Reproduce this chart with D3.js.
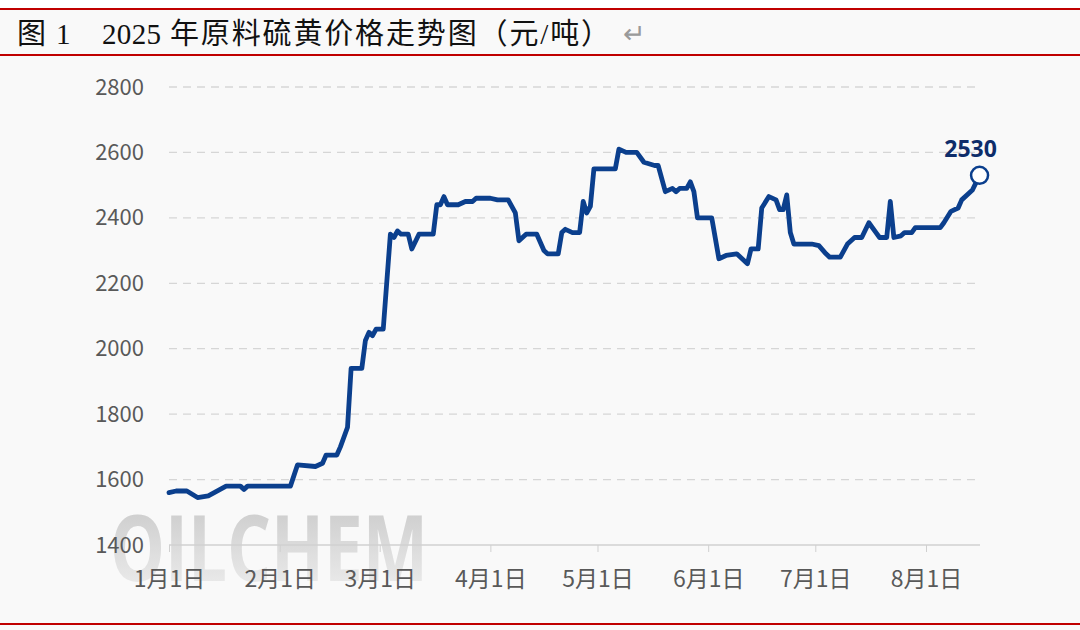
<!DOCTYPE html>
<html>
<head>
<meta charset="utf-8">
<script src="https://cdn.jsdelivr.net/npm/d3@7"></script>
<style>
  body { margin: 0; background: #f9f9f9; }
  svg { display: block; }
</style>
</head>
<body>
<div id="visual"></div>
<script>
// price data (元/吨)
const dates = ["2025-01-01","2025-01-03","2025-01-06","2025-01-09","2025-01-12","2025-01-17","2025-01-21","2025-01-22","2025-01-23","2025-02-04",
  "2025-02-06","2025-02-11","2025-02-13","2025-02-14","2025-02-17","2025-02-18","2025-02-20","2025-02-21","2025-02-24","2025-02-25",
  "2025-02-26","2025-02-27","2025-02-28","2025-03-02","2025-03-04","2025-03-05","2025-03-06","2025-03-07","2025-03-09","2025-03-10",
  "2025-03-12","2025-03-16","2025-03-17","2025-03-18","2025-03-19","2025-03-20","2025-03-23","2025-03-25","2025-03-27","2025-03-28",
  "2025-04-01","2025-04-03","2025-04-06","2025-04-08","2025-04-09","2025-04-11","2025-04-14","2025-04-16","2025-04-17","2025-04-20",
  "2025-04-21","2025-04-22","2025-04-24","2025-04-26","2025-04-27","2025-04-28","2025-04-29","2025-04-30","2025-05-06","2025-05-07",
  "2025-05-09","2025-05-12","2025-05-14","2025-05-17","2025-05-18","2025-05-20","2025-05-22","2025-05-23","2025-05-24","2025-05-26",
  "2025-05-27","2025-05-28","2025-05-29","2025-06-02","2025-06-04","2025-06-06","2025-06-09","2025-06-12","2025-06-13","2025-06-15",
  "2025-06-16","2025-06-18","2025-06-20","2025-06-21","2025-06-22","2025-06-23","2025-06-24","2025-06-25","2025-06-30","2025-07-02",
  "2025-07-04","2025-07-05","2025-07-08","2025-07-10","2025-07-12","2025-07-14","2025-07-16","2025-07-18","2025-07-19","2025-07-21",
  "2025-07-22","2025-07-23","2025-07-25","2025-07-26","2025-07-28","2025-07-29","2025-07-30","2025-08-05","2025-08-06","2025-08-08",
  "2025-08-10","2025-08-11","2025-08-14","2025-08-16"];
const prices = [1560,1565,1565,1545,1550,1580,1580,1570,1580,1580,
  1645,1640,1650,1675,1675,1700,1760,1940,1940,2025,
  2050,2040,2060,2060,2350,2340,2360,2350,2350,2305,
  2350,2350,2440,2440,2465,2440,2440,2450,2450,2460,
  2460,2455,2455,2415,2330,2350,2350,2300,2290,2290,
  2355,2365,2355,2355,2450,2415,2435,2550,2550,2610,
  2600,2600,2570,2560,2560,2480,2490,2480,2490,2490,
  2510,2480,2400,2400,2275,2285,2290,2260,2305,2305,
  2430,2465,2455,2425,2425,2470,2355,2320,2320,2315,
  2290,2280,2280,2320,2340,2340,2385,2355,2340,2340,
  2450,2340,2345,2355,2355,2370,2370,2370,2385,2420,
  2430,2455,2485,2530];
const yTicks = [1400,1600,1800,2000,2200,2400,2600,2800];
const xTicks = ["2025-01-01","2025-02-01","2025-03-01","2025-04-01","2025-05-01","2025-06-01","2025-07-01","2025-08-01"];
const titleParts = ["图", "1", "2025", "年原料硫黄价格走势图（元/吨）"];

const w = 1080, h = 630;
const parse = d3.utcParse("%Y-%m-%d");
const data = dates.map((d, i) => ({date: parse(d), value: prices[i]}));
const labelFont = "'Noto Sans CJK SC','Noto Sans',sans-serif";

const xScale = d3.scaleUtc()
  .domain([parse("2025-01-01"), parse("2025-08-01")])
  .range([169, 926]);
const yScale = d3.scaleLinear()
  .domain([1400, 2800])
  .range([545, 87]);

const svg = d3.select("#visual").append("svg")
  .attr("width", w).attr("height", h);

svg.append("rect").attr("width", w).attr("height", h).attr("fill", "#f9f9f9");
svg.append("rect").attr("width", w).attr("height", 8).attr("fill", "#ffffff");

// red rules
[9, 55, 624].forEach(y => {
  svg.append("line").attr("x1", 0).attr("x2", w).attr("y1", y).attr("y2", y)
    .attr("stroke", "#c00000").attr("stroke-width", 2);
});

// title, pieces placed like the word-processor original
const title = svg.append("text")
  .attr("y", 44)
  .style("font-family", "'Liberation Serif','Noto Sans CJK SC',serif")
  .style("font-size", "29px")
  .attr("fill", "#111");
title.append("tspan").attr("x", 17).text(titleParts[0]);
title.append("tspan").attr("x", 56).text(titleParts[1]);
title.append("tspan").attr("x", 102).attr("textLength", 59).text(titleParts[2]);
title.append("tspan").attr("x", 170).attr("textLength", 440).text(titleParts[3]);
title.append("tspan").attr("x", 623).attr("y", 43).attr("fill", "#9a9a9a").style("font-size", "27px").text("↵");

// watermark
const grad = svg.append("defs").append("linearGradient")
  .attr("id", "wm").attr("x1", 0).attr("y1", 0).attr("x2", 0).attr("y2", 1);
grad.append("stop").attr("offset", "0%").attr("stop-color", "#c4c4c4");
grad.append("stop").attr("offset", "100%").attr("stop-color", "#f2f2f2");
svg.append("text")
  .attr("x", 110).attr("y", 581)
  .attr("textLength", 318).attr("lengthAdjust", "spacingAndGlyphs")
  .style("font-family", "'Open Sans',sans-serif")
  .style("font-size", "92px").style("font-weight", 700)
  .attr("fill", "url(#wm)")
  .text("OILCHEM");

// grid
svg.append("g").selectAll("line")
  .data(yTicks.slice(1))
  .enter().append("line")
  .attr("x1", 169).attr("x2", 980)
  .attr("y1", d => yScale(d)).attr("y2", d => yScale(d))
  .attr("stroke", "#d6d6d6").attr("stroke-width", 1.3)
  .attr("stroke-dasharray", "8,6");

const yAxis = d3.axisLeft(yScale).tickValues(yTicks).tickSize(0).tickPadding(0)
  .tickFormat(d => String(d));
svg.append("g")
  .attr("id", "y-axis")
  .attr("transform", "translate(144,0)")
  .call(yAxis)
  .call(g => g.select(".domain").remove())
  .selectAll("text")
  .style("font-family", labelFont)
  .style("font-size", "22px")
  .attr("fill", "#595959");

const xAxis = d3.axisBottom(xScale)
  .tickValues(xTicks.map(parse))
  .tickSize(7).tickPadding(19)
  .tickFormat(d => (d.getUTCMonth() + 1) + "月1日");
const gx = svg.append("g")
  .attr("id", "x-axis")
  .attr("transform", "translate(0,545)")
  .call(xAxis);
gx.select(".domain").attr("d", "M169,0H980").attr("stroke", "#d0d0d0").attr("stroke-width", 1.5);
gx.selectAll(".tick line").attr("stroke", "#d0d0d0");
gx.selectAll("text")
  .style("font-family", labelFont)
  .style("font-size", "23px")
  .attr("fill", "#595959");

// price line
const line = d3.line()
  .x(d => xScale(d.date))
  .y(d => yScale(d.value));
svg.append("path")
  .datum(data)
  .attr("d", line)
  .attr("fill", "none")
  .attr("stroke", "#0b3f8d")
  .attr("stroke-width", 4.8)
  .attr("stroke-linejoin", "round")
  .attr("stroke-linecap", "round");

const last = data[data.length - 1];
svg.append("circle")
  .attr("cx", xScale(last.date)).attr("cy", yScale(last.value))
  .attr("r", 8.5)
  .attr("fill", "#fff").attr("stroke", "#0b3f8d").attr("stroke-width", 2.5);
svg.append("text")
  .attr("x", xScale(last.date) - 9).attr("y", yScale(last.value) - 18)
  .attr("text-anchor", "middle")
  .style("font-family", "'Open Sans',sans-serif")
  .style("font-size", "23px").style("font-weight", 700)
  .attr("fill", "#0e2d6a")
  .text(last.value);
</script>
</body>
</html>
